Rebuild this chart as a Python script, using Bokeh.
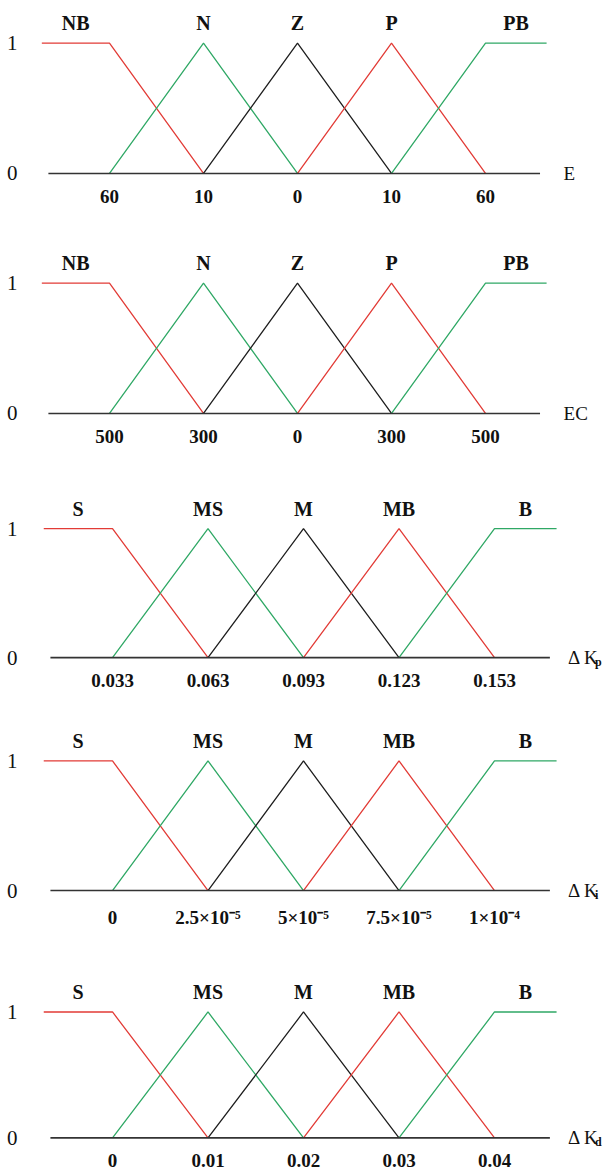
from bokeh.plotting import figure
from bokeh.layouts import column
from bokeh.models import FixedTicker, Range1d
from bokeh.core.properties import value
from bokeh.embed import file_html
from bokeh.resources import INLINE

# ---------------- data ----------------
E_sets = ["NB", "N", "Z", "P", "PB"]
K_sets = ["S", "MS", "M", "MB", "B"]
E_ticks = ["60", "10", "0", "10", "60"]
EC_ticks = ["500", "300", "0", "300", "500"]
Kp_ticks = ["0.033", "0.063", "0.093", "0.123", "0.153"]
Ki_ticks = ["0", "2.5×10⁻⁵", "5×10⁻⁵", "7.5×10⁻⁵", "1×10⁻⁴"]
Kd_ticks = ["0", "0.01", "0.02", "0.03", "0.04"]
centers = [0, 1, 2, 3, 4]          # positions of the five fuzzy-set centres (tick slots)
universe = [-0.72, 4.65]            # extent of the shoulder plateaus
axis_extent = [-0.65, 4.58]         # extent of the base line
set_colors = ["#e23b36", "#2fa865", "#1e1e1e", "#e23b36", "#2fa865"]

panels = [
    dict(sets=E_sets, ticks=E_ticks, name="E", sub=""),
    dict(sets=E_sets, ticks=EC_ticks, name="EC", sub=""),
    dict(sets=K_sets, ticks=Kp_ticks, name="Δ K", sub="p"),
    dict(sets=K_sets, ticks=Ki_ticks, name="Δ K", sub="i"),
    dict(sets=K_sets, ticks=Kd_ticks, name="Δ K", sub="d"),
]

# ---------------- layout (pixels) ----------------
fig_bounds = [0, 222, 463, 700, 948, 1169]
level1_px = [43, 283, 528, 760, 1012]
level0_px = [173, 413, 657, 890, 1141]
origin_px = [109, 109, 112, 112, 112]
step_px = [94, 94, 95.5, 95.5, 95.5]
name_x = [4.83, 4.83, 4.77, 4.77, 4.77]
LEFT = 32
W = 606
Y_TOP = 1.25
Y_BOT = -0.1
FONT = "Liberation Serif"


def membership(k):
    c = centers
    if k == 0:
        return [universe[0], c[0], c[1]], [1, 1, 0]
    if k == len(c) - 1:
        return [c[k - 1], c[k], universe[1]], [0, 1, 1]
    return [c[k - 1], c[k], c[k + 1]], [0, 1, 0]


def label_x(k):
    xs, ys = membership(k)
    core = [x for x, y in zip(xs, ys) if y == 1]
    return sum(core) / len(core)


figs = []
for i, pan in enumerate(panels):
    H = fig_bounds[i + 1] - fig_bounds[i]
    unit = level0_px[i] - level1_px[i]
    frame_top = level1_px[i] - (Y_TOP - 1) * unit
    frame_bot = level0_px[i] - Y_BOT * unit
    top_b = int(round(frame_top - fig_bounds[i]))
    bot_b = int(round(fig_bounds[i + 1] - frame_bot))
    xs0 = (LEFT - origin_px[i]) / step_px[i]
    xe0 = xs0 + (W - LEFT) / step_px[i]

    p = figure(width=W, height=H, x_range=Range1d(xs0, xe0), y_range=Range1d(Y_BOT, Y_TOP),
               output_backend="svg", toolbar_location=None,
               min_border_left=LEFT, min_border_right=0,
               min_border_top=top_b, min_border_bottom=bot_b)
    p.xgrid.visible = False
    p.ygrid.visible = False
    p.outline_line_color = None
    p.background_fill_color = "white"
    p.border_fill_color = "white"

    xa = p.xaxis[0]
    xa.ticker = FixedTicker(ticks=centers)
    xa.major_label_overrides = {c: t for c, t in zip(centers, pan["ticks"])}
    xa.axis_line_color = None
    xa.major_tick_line_color = None
    xa.minor_tick_line_color = None
    xa.major_label_text_font = FONT
    xa.major_label_text_font_style = "bold"
    xa.major_label_text_font_size = "19px"
    xa.major_label_text_color = "#111111"
    xa.major_label_standoff = -3

    ya = p.yaxis[0]
    ya.ticker = FixedTicker(ticks=[0, 1])
    ya.axis_line_color = None
    ya.major_tick_line_color = None
    ya.minor_tick_line_color = None
    ya.major_label_text_font = FONT
    ya.major_label_text_font_size = "21px"
    ya.major_label_text_color = "#111111"
    ya.major_label_standoff = 9

    for k in range(len(pan["sets"])):
        xs, ys = membership(k)
        p.line(xs, ys, line_color=set_colors[k], line_width=1.3)

    # base line of the universe of discourse
    p.line(axis_extent, [0, 0], line_color="#333333", line_width=1.6)

    p.text(x=[label_x(k) for k in range(len(pan["sets"]))],
           y=[1 + 20 / unit] * len(pan["sets"]), text=pan["sets"],
           text_font=value(FONT), text_font_style="bold", text_font_size="20px",
           text_align="center", text_baseline="middle", text_color="#111111")

    p.text(x=[name_x[i]], y=[0], text=[pan["name"]],
           text_font=value(FONT), text_font_size="19px",
           text_align="left", text_baseline="middle", text_color="#111111")
    if pan["sub"]:
        p.text(x=[name_x[i]], y=[0], text=[pan["sub"]], x_offset=27, y_offset=4,
               text_font=value(FONT), text_font_style="bold", text_font_size="12px",
               text_align="left", text_baseline="middle", text_color="#111111")
    figs.append(p)

layout = column(*figs, spacing=0)
open("out.html", "w").write(file_html(layout, INLINE))
